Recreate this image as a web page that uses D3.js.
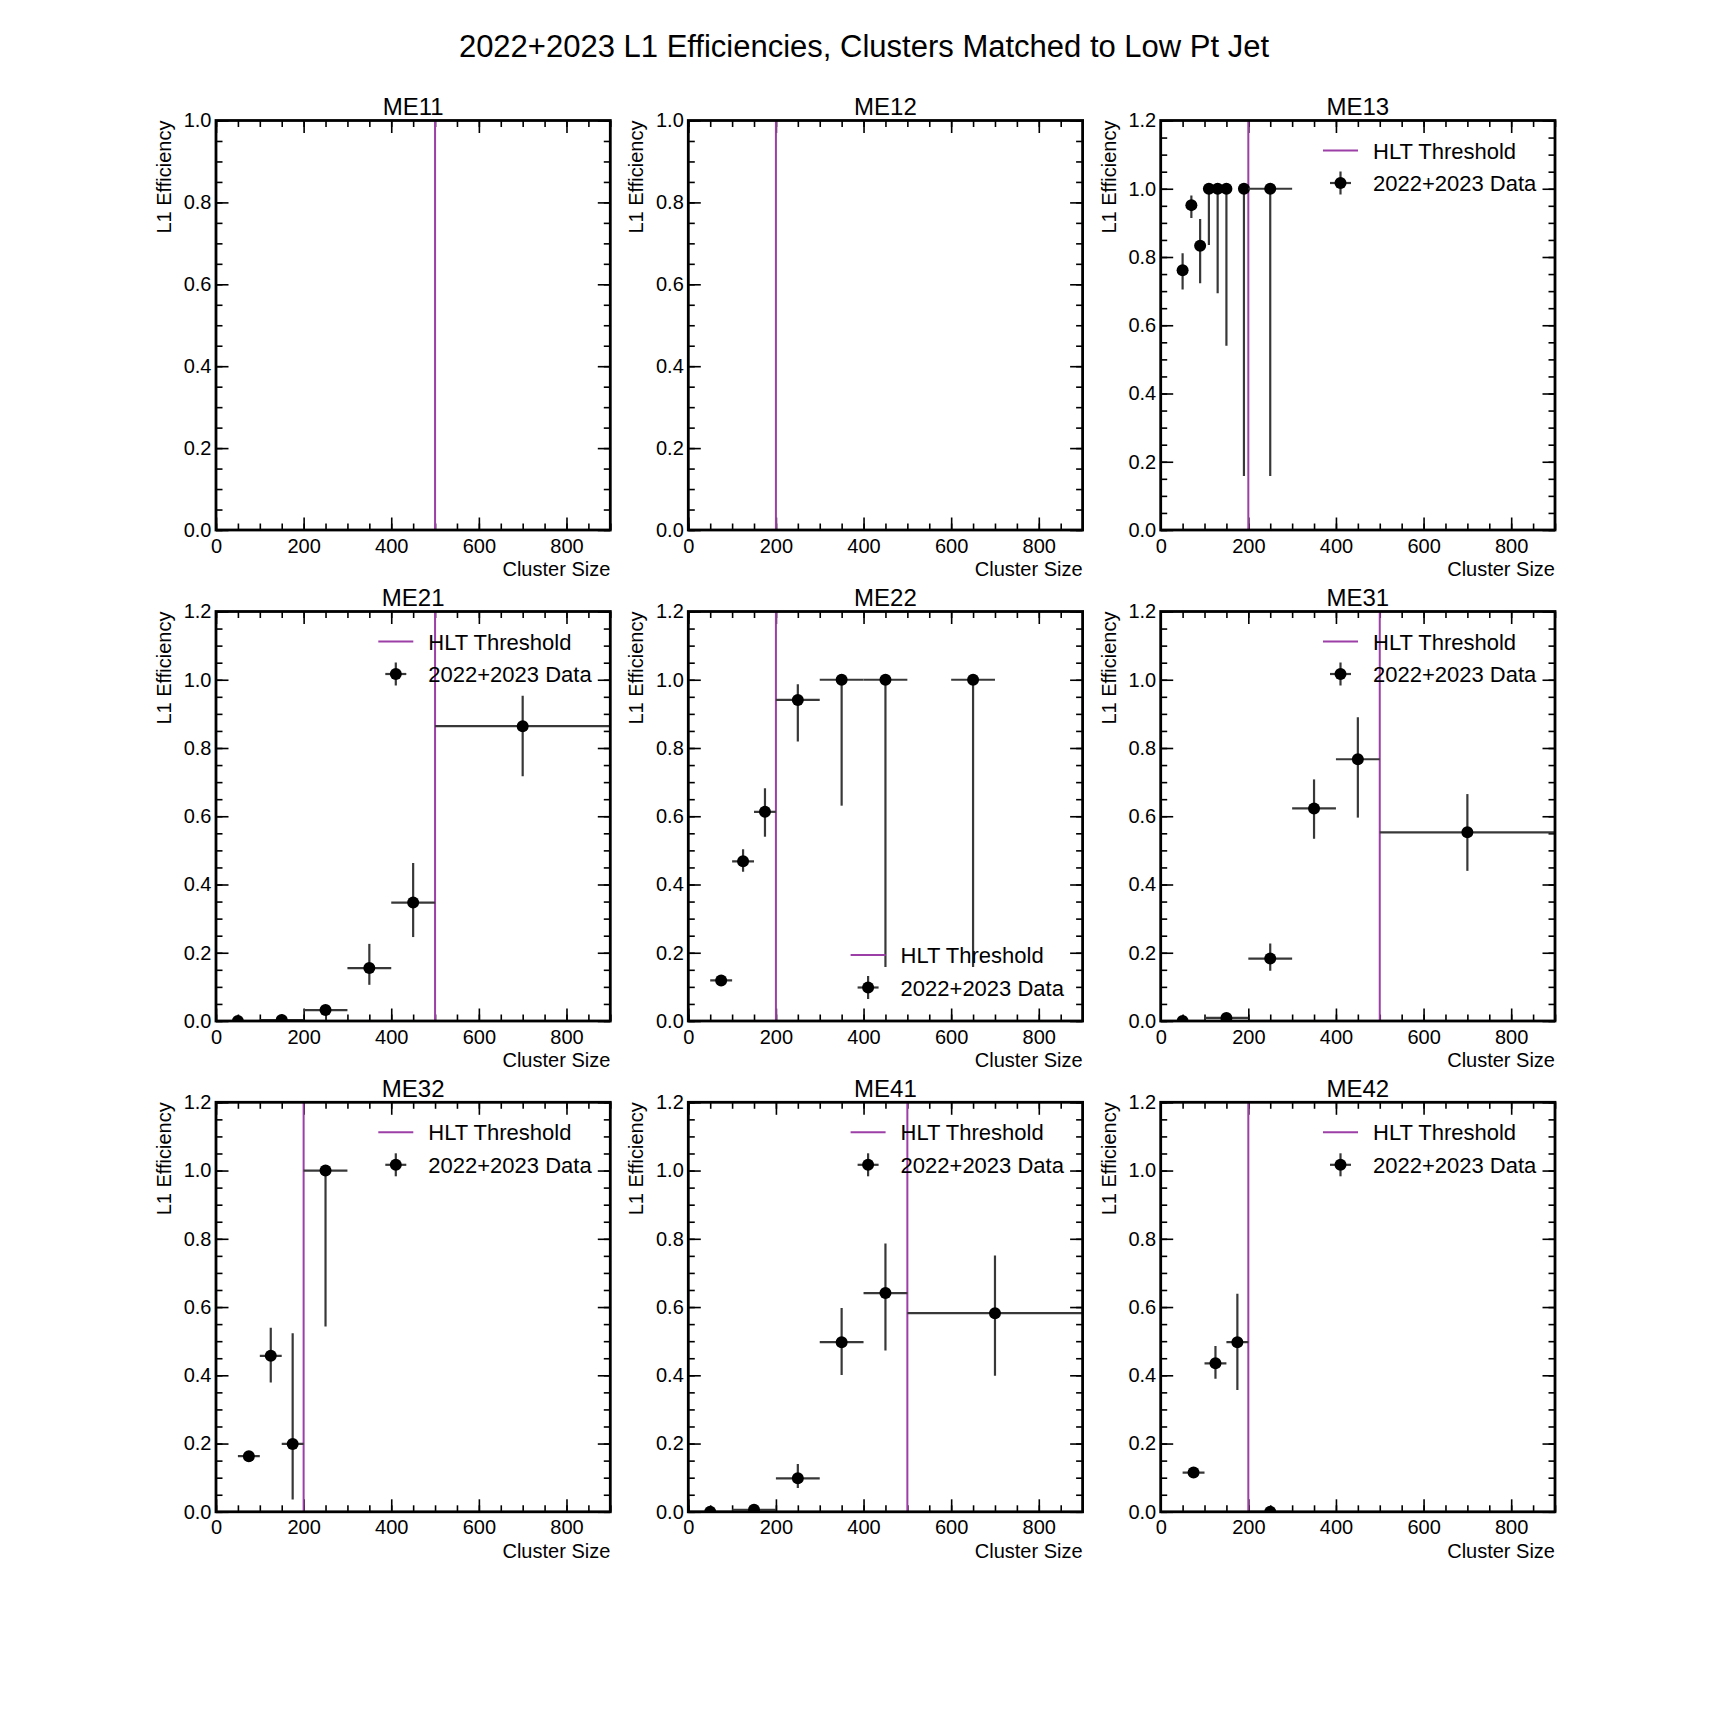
<!DOCTYPE html>
<html>
<head>
<meta charset="utf-8">
<script src="https://cdn.jsdelivr.net/npm/d3@7"></script>
<style>
	html, body { margin: 0; padding: 0; background: #fff; }
	svg { display: block; font-family: "Liberation Sans", Arial, Helvetica, sans-serif; }
</style>
</head>
<body>
<svg id="chart" width="1728" height="1728"></svg>
<script>
	var chambers = ["ME11", "ME12", "ME13", "ME21", "ME22", "ME31", "ME32", "ME41", "ME42"]
	var hltThreshold = [500, 200, 200, 500, 200, 500, 200, 500, 200]
	var yMaxes = [1.0, 1.0, 1.2, 1.2, 1.2, 1.2, 1.2, 1.2, 1.2]
	var legendPlace = ["", "", "upper", "upper", "lower", "upper", "upper", "upper", "upper"]

	var xTicks = [0, 200, 400, 600, 800]
	var yTicks10 = [0.0, 0.2, 0.4, 0.6, 0.8, 1.0]
	var yTicks12 = [0.0, 0.2, 0.4, 0.6, 0.8, 1.0, 1.2]

	// bins [lo, hi], efficiency, error band [down, up]
	var me13Bins = [[40, 60], [60, 80], [80, 100], [100, 120], [120, 140], [140, 160], [180, 200], [200, 300]]
	var me13Eff = [0.761, 0.952, 0.833, 1.0, 1.0, 1.0, 1.0, 1.0]
	var me13Err = [[0.705, 0.811], [0.914, 0.980], [0.723, 0.911], [0.835, 1.0], [0.694, 1.0], [0.540, 1.0], [0.158, 1.0], [0.158, 1.0]]

	var me21Bins = [[0, 100], [100, 200], [200, 300], [300, 400], [400, 500], [500, 900]]
	var me21Eff = [0.0, 0.003, 0.032, 0.155, 0.347, 0.864]
	var me21Err = [[0.0, 0.004], [0.001, 0.008], [0.025, 0.040], [0.106, 0.226], [0.246, 0.463], [0.717, 0.953]]

	var me22Bins = [[50, 100], [100, 150], [150, 200], [200, 300], [300, 400], [400, 500], [600, 700]]
	var me22Eff = [0.119, 0.468, 0.613, 0.941, 1.0, 1.0, 1.0]
	var me22Err = [[0.110, 0.128], [0.437, 0.503], [0.540, 0.682], [0.819, 0.987], [0.631, 1.0], [0.158, 1.0], [0.158, 1.0]]

	var me31Bins = [[0, 100], [100, 200], [200, 300], [300, 400], [400, 500], [500, 900]]
	var me31Eff = [0.0, 0.009, 0.183, 0.623, 0.767, 0.553]
	var me31Err = [[0.0, 0.004], [0.004, 0.016], [0.147, 0.227], [0.534, 0.708], [0.596, 0.890], [0.440, 0.665]]

	var me32Bins = [[50, 100], [100, 150], [150, 200], [200, 300]]
	var me32Eff = [0.163, 0.457, 0.199, 1.0]
	var me32Err = [[0.155, 0.171], [0.379, 0.539], [0.036, 0.523], [0.543, 1.0]]

	var me41Bins = [[0, 100], [100, 200], [200, 300], [300, 400], [400, 500], [500, 900]]
	var me41Eff = [0.0, 0.006, 0.098, 0.497, 0.641, 0.582]
	var me41Err = [[0.0, 0.004], [0.002, 0.012], [0.070, 0.140], [0.401, 0.597], [0.473, 0.786], [0.399, 0.751]]

	var me42Bins = [[50, 100], [100, 150], [150, 200], [200, 300]]
	var me42Eff = [0.115, 0.435, 0.497, 0.0]
	var me42Err = [[0.107, 0.123], [0.390, 0.486], [0.357, 0.639], [0.0, 0.004]]

	var series = {
		ME13: [me13Bins, me13Eff, me13Err],
		ME21: [me21Bins, me21Eff, me21Err],
		ME22: [me22Bins, me22Eff, me22Err],
		ME31: [me31Bins, me31Eff, me31Err],
		ME32: [me32Bins, me32Eff, me32Err],
		ME41: [me41Bins, me41Eff, me41Err],
		ME42: [me42Bins, me42Eff, me42Err]
	}

	var colLeft = [216, 688.3, 1160.7]
	var rowTop = [120.5, 611.5, 1102.3]
	var pw = 394.3, ph = 409.5
	var purple = "#9c3fa6", errColor = "#383838"
	var markerR = 6

	var svg = d3.select("#chart")
	svg.append("rect").attr("width", 1728).attr("height", 1728).attr("fill", "#fff")

	svg.append("text")
		.attr("x", 864).attr("y", 57)
		.attr("text-anchor", "middle")
		.style("font-size", "31px")
		.text("2022+2023 L1 Efficiencies, Clusters Matched to Low Pt Jet")

	// ticks point inwards on all four sides
	function tickAxis(axis, ticks, size, fmt, pad){
		return axis.tickValues(ticks).tickSizeInner(-size).tickSizeOuter(0).tickPadding(pad).tickFormat(fmt)
	}

	chambers.forEach(function(name, i){
		var left = colLeft[i % 3], top = rowTop[Math.floor(i / 3)]
		var g = svg.append("g").attr("transform", "translate(" + left + "," + top + ")")
		var x = d3.scaleLinear().domain([0, 900]).range([0, pw])
		var y = d3.scaleLinear().domain([0, yMaxes[i]]).range([ph, 0])
		var yTicks = yMaxes[i] > 1.1 ? yTicks12 : yTicks10
		var yMinor = y.ticks(Math.round(yMaxes[i] / 0.05))
		var xMinor = x.ticks(18)

		var sides = [
			[d3.axisBottom, x, "translate(0," + ph + ")", xTicks, xMinor, d3.format("d"), 8.5],
			[d3.axisTop, x, null, xTicks, xMinor, "", 4],
			[d3.axisLeft, y, null, yTicks, yMinor, d3.format(".1f"), 4.5],
			[d3.axisRight, y, "translate(" + pw + ",0)", yTicks, yMinor, "", 4]
		]
		sides.forEach(function(a){
			var minor = g.append("g").attr("transform", a[2])
				.call(tickAxis(a[0](a[1]), a[4], 6.5, "", a[6]))
			var major = g.append("g").attr("transform", a[2])
				.call(tickAxis(a[0](a[1]), a[3], 12.5, a[5], a[6]))
			;[minor, major].forEach(function(sel){
				sel.select(".domain").remove()
				sel.selectAll("line").attr("stroke", "#000").attr("stroke-width", 1.6)
				sel.selectAll("text").attr("fill", "#000").style("font-size", "20px").attr("font-family", null)
			})
		})

		g.append("text")
			.attr("x", pw).attr("y", ph + 46)
			.attr("text-anchor", "end")
			.style("font-size", "20px")
			.text("Cluster Size")
		g.append("text")
			.attr("transform", "translate(-45,0) rotate(-90)")
			.attr("text-anchor", "end")
			.style("font-size", "20px")
			.text("L1 Efficiency")
		g.append("text")
			.attr("x", pw / 2).attr("y", -5.5)
			.attr("text-anchor", "middle")
			.style("font-size", "24px")
			.text(name)

		var clipId = "clip" + i
		g.append("clipPath").attr("id", clipId)
			.append("rect").attr("width", pw).attr("height", ph)
		var plot = g.append("g").attr("clip-path", "url(#" + clipId + ")")

		plot.append("line")
			.attr("x1", x(hltThreshold[i])).attr("x2", x(hltThreshold[i]))
			.attr("y1", 0).attr("y2", ph)
			.attr("stroke", purple).attr("stroke-width", 2)

		var s = series[name]
		if(s){
			var pts = s[0].map(function(b, k){
				return {lo: b[0], hi: b[1], mid: (b[0] + b[1]) / 2, eff: s[1][k], down: s[2][k][0], up: s[2][k][1]}
			})
			var pg = plot.selectAll("g.pt").data(pts).enter().append("g").attr("class", "pt")
			pg.append("line")
				.attr("x1", function(d){ return x(d.lo) }).attr("x2", function(d){ return x(d.hi) })
				.attr("y1", function(d){ return y(d.eff) }).attr("y2", function(d){ return y(d.eff) })
				.attr("stroke", errColor).attr("stroke-width", 2.2)
			pg.append("line")
				.attr("x1", function(d){ return x(d.mid) }).attr("x2", function(d){ return x(d.mid) })
				.attr("y1", function(d){ return y(d.down) }).attr("y2", function(d){ return y(d.up) })
				.attr("stroke", errColor).attr("stroke-width", 2.2)
			pg.append("circle")
				.attr("cx", function(d){ return x(d.mid) }).attr("cy", function(d){ return y(d.eff) })
				.attr("r", markerR).attr("fill", "#000")
		}

		// legend, no frame
		if(legendPlace[i]){
			var row1 = legendPlace[i] === "upper" ? 30 : ph - 66
			var row2 = row1 + 32.5
			var lg = g.append("g")
			lg.append("line")
				.attr("x1", pw - 232).attr("x2", pw - 197)
				.attr("y1", row1).attr("y2", row1)
				.attr("stroke", purple).attr("stroke-width", 2)
			lg.append("line")
				.attr("x1", pw - 225).attr("x2", pw - 204)
				.attr("y1", row2).attr("y2", row2)
				.attr("stroke", errColor).attr("stroke-width", 2.2)
			lg.append("line")
				.attr("x1", pw - 214.5).attr("x2", pw - 214.5)
				.attr("y1", row2 - 11.5).attr("y2", row2 + 11.5)
				.attr("stroke", errColor).attr("stroke-width", 2.2)
			lg.append("circle")
				.attr("cx", pw - 214.5).attr("cy", row2).attr("r", markerR).attr("fill", "#000")
			lg.append("text")
				.attr("x", pw - 182).attr("y", row1 + 8)
				.style("font-size", "22px")
				.text("HLT Threshold")
			lg.append("text")
				.attr("x", pw - 182).attr("y", row2 + 8)
				.style("font-size", "22px")
				.text("2022+2023 Data")
		}

		g.append("rect")
			.attr("width", pw).attr("height", ph)
			.attr("fill", "none").attr("stroke", "#000").attr("stroke-width", 2.8)
	})
</script>
</body>
</html>
